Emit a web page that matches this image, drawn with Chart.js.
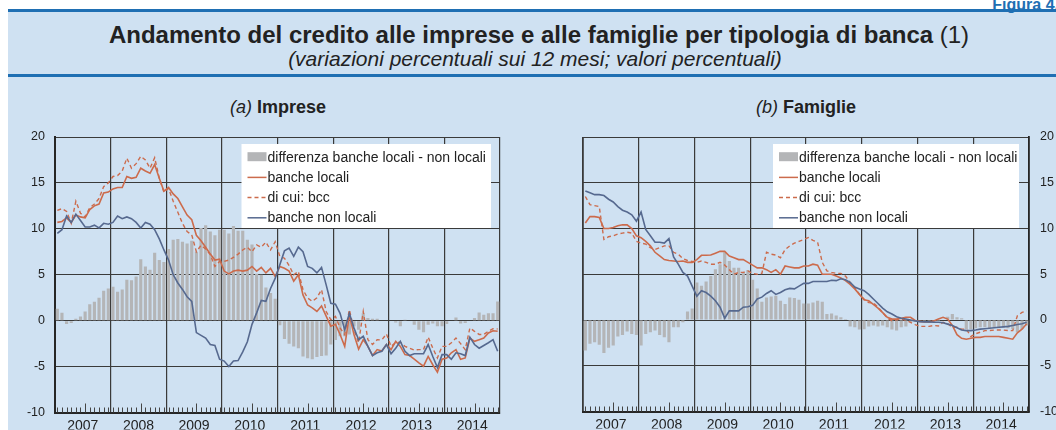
<!DOCTYPE html>
<html><head><meta charset="utf-8">
<script src="https://cdn.jsdelivr.net/npm/chart.js@4.4.1/dist/chart.umd.min.js"></script>
<style>
html,body{margin:0;padding:0;background:#fff;width:1056px;height:430px;overflow:hidden;font-family:"Liberation Sans",Arial,sans-serif;color:#222;}
#fig{position:absolute;left:8px;top:12px;width:1048px;height:418px;background:#cfe1f2;}
.rule{position:absolute;left:8px;width:1048px;height:3px;background:#1f6fb3;}
#figlabel{position:absolute;right:-3px;top:-3px;color:#1f6fb3;font-weight:bold;font-size:16px;line-height:16px;}
#title{position:absolute;left:11px;width:1056px;top:22px;text-align:center;font-size:24px;line-height:26px;white-space:nowrap;}
#title b{font-weight:bold;}
#subtitle{position:absolute;left:7px;width:1056px;top:47px;text-align:center;font-size:21px;line-height:23px;font-style:italic;white-space:nowrap;}
.ptitle{position:absolute;top:96px;font-size:18px;line-height:22px;text-align:center;white-space:nowrap;}
canvas{position:absolute;top:110px;}
</style>
</head><body>
<div id="fig"></div>
<div class="rule" style="top:9px"></div>
<div class="rule" style="top:74px"></div>
<div id="figlabel">Figura 4.</div>
<div id="title"><b>Andamento del credito alle imprese e alle famiglie per tipologia di banca</b> (1)</div>
<div id="subtitle">(variazioni percentuali sui 12 mesi; valori percentuali)</div>
<div class="ptitle" style="left:178px;width:200px;"><i>(a)</i> <b>Imprese</b></div>
<div class="ptitle" style="left:706px;width:200px;"><i>(b)</i> <b>Famiglie</b></div>
<canvas id="c1" width="528" height="320" style="left:0px"></canvas>
<canvas id="c2" width="528" height="320" style="left:528px"></canvas>
<script>
const years = ['2007','2008','2009','2010','2011','2012','2013','2014'];
const months = ['gen','feb','mar','apr','mag','giu','lug','ago','set','ott','nov','dic'];
const categories = years.flatMap(y => months.map(m => m + ' ' + y));
const seriesNames = ['differenza banche locali - non locali','banche locali','di cui: bcc','banche non locali'];

// (a) Imprese
const impreseDiff = [
  1.3, 0.85, -0.35, -0.25, 0.2, 0.45, 1.0, 1.8, 2.05, 2.5, 3.25, 3.5,
  3.7, 3.15, 3.4, 4.45, 4.4, 4.8, 6.7, 5.9, 5.55, 7.4, 6.6, 6.4,
  7.8, 8.8, 8.9, 8.6, 8.4, 8.7, 7.5, 10.1, 10.4, 9.7, 9.3, 9.9,
  9.9, 9.5, 10.3, 9.8, 9.8, 8.8, 8.3, 5.1, 5.0, 3.6, 3.0, 2.4,
  -0.5, -2.0, -2.5, -2.8, -3.0, -3.9, -4.1, -4.2, -3.95, -3.85, -3.8, -2.6,
  -2.1, -1.7, -1.7, -1.5, -0.6, -1.0, 0.8, 0.3, 0.2, 0.2, 0.0, 0.0,
  0.0, -0.2, -0.6, 0.1, 0.0, -0.45, -1.0, -1.25, -0.45, -0.3, -0.6, -0.6,
  -0.35, 0.0, 0.35, -0.3, -0.25, 0.0, 0.3, 0.9, 0.65, 0.8, 0.8, 2.1
];
const impreseLocali = [
  10.7, 10.8, 11.2, 10.7, 11.5, 11.3, 11.2, 12.1, 12.5, 12.7, 13.9, 14.0,
  14.35, 14.5, 14.5, 15.7, 15.5, 15.6, 16.6, 16.3, 16.05, 17.0, 15.5, 14.1,
  14.5, 13.8, 13.3, 12.4, 11.5, 11.0, 9.3, 8.7, 8.0, 7.25, 6.6, 6.7,
  5.4, 5.1, 5.4, 5.5, 5.4, 5.5, 5.9, 5.4, 5.8, 5.2, 5.7, 4.8,
  5.9, 5.7, 5.4, 4.3, 5.0, 2.8, 1.7, 1.4, 1.0, 1.6, 0.5, -0.6,
  -0.4, -1.5, -2.8, 0.6, -1.5, -3.1, -2.07, -2.8, -3.8, -3.15, -3.3, -2.6,
  -3.15, -2.25, -2.8, -3.7, -3.8, -4.2, -4.6, -4.96, -3.9, -4.8, -5.6, -4.2,
  -4.06, -3.5, -3.15, -4.2, -4.06, -1.9, -2.25, -2.07, -1.9, -1.34, -1.1, -1.16
];
const impreseBcc = [
  12.0, 12.2, 11.9, 10.6, 13.0, 11.7, 11.3, 12.3, 12.7, 13.3, 14.6, 15.0,
  15.7, 15.8, 16.3, 17.7, 16.6, 17.1, 17.9, 17.5, 16.6, 17.75, 15.5, 14.0,
  14.4, 13.0, 11.8, 10.6, 9.7, 9.35, 7.5, 8.2, 7.8, 7.2, 5.9, 6.45,
  6.45, 6.6, 6.9, 7.25, 7.7, 8.0, 7.5, 8.26, 8.0, 8.55, 7.7, 8.6,
  7.0, 6.8, 6.0, 5.0, 5.36, 3.37, 2.46, 2.1, 2.5, 3.37, 1.0, 0.1,
  0.47, -0.8, -1.5, 1.2, -1.0, -2.4, 1.0, -2.07, -2.6, -2.07, -2.1, -1.45,
  -2.8, -2.4, -2.35, -2.8, -3.0, -3.2, -3.15, -3.15, -1.78, -3.0, -4.06, -2.8,
  -2.8, -2.4, -1.9, -2.5, -3.15, -0.8, -1.16, -1.5, -1.5, -1.16, -0.87, -0.9
];
const impreseNonLocali = [
  9.5, 9.9, 11.4, 10.7, 11.6, 10.9, 10.2, 10.2, 10.4, 10.1, 10.6, 10.5,
  10.7, 11.4, 11.1, 11.3, 11.1, 10.7, 10.1, 10.7, 10.5, 9.9, 8.9, 7.7,
  6.6, 5.0, 4.1, 3.4, 2.6, 2.1, -1.3, -1.6, -1.9, -2.6, -2.7, -4.2,
  -4.4, -5.0, -4.4, -4.35, -3.4, -2.3, -0.4, 0.85, 2.2, 2.1, 3.5, 4.6,
  6.1, 7.6, 7.9, 7.0, 8.0, 7.5, 5.9, 5.7, 5.2, 5.8, 3.9, 1.9,
  1.8, 0.8, -1.0, 0.8, -0.8, -2.07, -1.7, -2.8, -3.8, -3.5, -3.33, -2.6,
  -3.6, -3.0, -2.25, -3.33, -3.8, -3.6, -3.6, -3.6, -2.6, -3.9, -5.1, -3.7,
  -3.7, -4.2, -3.5, -3.6, -3.8, -1.8, -2.6, -3.0, -2.7, -2.4, -2.07, -3.33
];

// (b) Famiglie
const famiglieDiff = [
  -3.33, -2.6, -2.43, -2.7, -3.6, -3.04, -2.8, -1.8, -1.63, -1.27, -1.52, -1.63,
  -2.8, -1.52, -1.34, -1.16, -1.63, -1.88, -2.43, -0.8, -0.8, -0.25, 0.94, 1.27,
  4.1, 3.73, 4.2, 4.8, 5.54, 6.1, 7.4, 6.45, 5.7, 5.7, 5.25, 5.47,
  4.4, 3.44, 2.0, 2.46, 2.57, 2.64, 2.1, 1.74, 2.46, 2.4, 2.2, 1.8,
  1.8, 1.9, 2.1, 2.0, 0.65, 0.7, 0.5, 0.3, 0.1, -0.7, -0.8, -1.05,
  -1.0, -0.7, -0.6, -0.7, -0.6, -0.8, -1.05, -1.16, -0.8, -0.7, -0.25, -0.2,
  -0.07, -0.2, -0.33, -0.2, -0.1, 0.05, 0.36, 0.65, 0.3, 0.2, -1.0, -1.0,
  -0.9, -0.8, -0.8, -0.9, -0.8, -0.9, -0.8, -0.9, -1.0, -1.34, -1.0, -0.6
];
const famiglieLocali = [
  10.6, 11.3, 11.3, 11.2, 10.0, 10.0, 10.1, 10.3, 10.4, 10.4, 10.0, 9.2,
  9.0, 8.6, 8.1, 7.4, 7.0, 6.6, 6.5, 6.45, 6.4, 6.45, 6.3, 6.3,
  6.6, 7.07, 7.07, 7.1, 7.3, 7.5, 7.5, 7.0, 6.8, 6.6, 6.6, 6.3,
  6.0, 5.7, 5.7, 5.5, 5.2, 5.5, 5.0, 5.9, 5.8, 5.7, 5.7, 5.9,
  5.9, 6.1, 6.0, 5.0, 5.0, 5.0, 4.8, 4.6, 4.3, 3.9, 3.4, 2.8,
  2.2, 2.1, 1.7, 1.3, 0.8, 0.3, 0.1, 0.1, 0.2, 0.3, 0.3, -0.05,
  -0.15, -0.2, -0.2, -0.1, 0.1, 0.3, 0.1, -0.6, -1.6, -2.0, -2.1, -2.0,
  -1.9, -1.9, -1.8, -1.8, -1.8, -1.8, -1.9, -2.0, -2.1, -1.4, -1.0, -0.4
];
const famiglieBcc = [
  13.5, 12.6, 12.5, 12.4, 8.8, 9.1, 9.2, 9.4, 9.5, 9.6, 9.5, 8.6,
  8.4, 8.3, 7.9, 7.7, 7.9, 8.1, 8.1, 7.4, 7.2, 6.7, 6.5, 6.4,
  6.3, 6.45, 6.3, 6.1, 6.1, 6.3, 6.0, 5.5, 5.0, 5.2, 5.2, 5.36,
  5.1, 5.0, 5.1, 7.4, 7.2, 7.1, 6.8, 7.7, 8.1, 8.4, 8.6, 8.8,
  9.0, 8.7, 8.5, 6.3, 5.36, 5.2, 5.1, 5.1, 4.8, 4.1, 3.55, 2.8,
  2.3, 1.9, 1.85, 1.4, 0.83, 0.2, -0.07, 0.03, 0.1, 0.0, -0.25, -0.5,
  -0.7, -0.7, -0.7, -0.6, -0.65, -0.25, -0.4, -0.8, -0.8, -1.0, -1.0, -1.8,
  -1.5, -1.34, -1.16, -1.15, -1.1, -1.1, -1.1, -1.15, -1.16, 0.47, 0.83, 1.0
];
const famiglieNonLocali = [
  14.1, 13.9, 13.7, 13.7, 13.6, 13.2, 12.9, 12.4, 12.0, 11.8, 11.5, 10.8,
  11.8, 9.9, 9.2, 8.5, 8.5, 8.4, 8.9, 6.9, 6.1, 5.2, 4.8, 3.7,
  2.6, 3.2, 3.0, 2.6, 2.1, 1.4, 0.2, 1.0, 1.0, 1.0, 1.4, 1.45,
  1.6, 2.3, 2.5, 2.9, 3.2, 2.8, 3.0, 3.3, 3.45, 3.4, 3.7, 4.0,
  4.0, 4.2, 4.2, 4.2, 4.2, 4.35, 4.3, 4.5, 4.4, 4.1, 3.6, 3.4,
  3.2, 2.8, 2.3, 1.8, 1.3, 0.9, 0.65, 0.35, 0.2, 0.1, 0.0, -0.1,
  -0.18, -0.2, -0.2, -0.25, -0.25, -0.3, -0.45, -0.6, -0.85, -1.1, -1.16, -1.16,
  -1.1, -1.0, -0.95, -0.9, -0.85, -0.8, -0.75, -0.7, -0.6, -0.5, -0.4, -0.25
];

const yMin = -10, yMax = 20, yStep = 5;

const GREY = '#b4b5b7';
const ORANGE = '#cc6b4c';
const BLUE = '#56698f';
const GRID = '#3a3a3a';
const AXIS = '#262626';
const FONT = '"Liberation Sans", Arial, sans-serif';

const boxLegend = {
  id: 'boxLegend',
  beforeDatasetsDraw(chart, args, opts) {
    const ctx = chart.ctx, a = chart.chartArea;
    ctx.save();
    const bx = a.right - opts.rightInset - opts.width;
    const by = a.top + 7;
    ctx.fillStyle = '#ffffff';
    ctx.fillRect(bx, by, opts.width, 84);
    const xs = chart.scales.x;
    ctx.strokeStyle = '#444';
    ctx.lineWidth = 1;
    for (let i = 0; i < chart.data.labels.length; i++) {
      const px = Math.round(xs.getPixelForValue(i)) + 0.5;
      const len = (i % 12 === 6) ? 9 : 5;
      ctx.beginPath();
      ctx.moveTo(px, a.bottom);
      ctx.lineTo(px, a.bottom - len);
      ctx.stroke();
    }
    ctx.font = '14px ' + FONT;
    ctx.textBaseline = 'middle';
    ctx.textAlign = 'left';
    const sx = bx + 6, sw = 19;
    seriesNames.forEach((name, k) => {
      const ds = chart.data.datasets.find(d => d.label === name);
      const ry = a.top + 19.7 + k * 20.2;
      if (ds.type === 'bar') {
        ctx.fillStyle = ds.backgroundColor;
        ctx.fillRect(sx, ry - 4.5, sw, 9);
      } else {
        ctx.strokeStyle = ds.borderColor;
        ctx.lineWidth = 1.5;
        ctx.setLineDash(ds.borderDash || []);
        ctx.beginPath();
        ctx.moveTo(sx, ry + 0.5);
        ctx.lineTo(sx + sw, ry + 0.5);
        ctx.stroke();
        ctx.setLineDash([]);
      }
      ctx.fillStyle = '#222';
      ctx.fillText(name, sx + sw + 1, ry + 1);
    });
    ctx.restore();
  }
};

function makeChart(id, diff, loc, bcc, nonloc, isLeft) {
  return new Chart(document.getElementById(id), {
    type: 'bar',
    data: {
      labels: categories,
      datasets: [
        { type: 'line', label: seriesNames[3], data: nonloc, borderColor: BLUE, borderWidth: 1.6, pointRadius: 0, tension: 0, order: 1 },
        { type: 'line', label: seriesNames[1], data: loc, borderColor: ORANGE, borderWidth: 1.6, pointRadius: 0, tension: 0, order: 2 },
        { type: 'line', label: seriesNames[2], data: bcc, borderColor: ORANGE, borderWidth: 1.4, borderDash: [4, 3], pointRadius: 0, tension: 0, order: 3 },
        { type: 'bar', label: seriesNames[0], data: diff, backgroundColor: GREY, borderWidth: 0, barPercentage: 0.68, categoryPercentage: 1, order: 10 }
      ]
    },
    options: {
      responsive: false,
      animation: false,
      devicePixelRatio: 1,
      layout: { padding: isLeft ? { top: 27, right: 28, left: 0, bottom: 0 } : { top: 27, right: 0, left: 55, bottom: 0 } },
      plugins: {
        legend: { display: false },
        tooltip: { enabled: false },
        boxLegend: isLeft ? { width: 249.5, rightInset: 9 } : { width: 246, rightInset: 10 }
      },
      scales: {
        x: {
          offset: true,
          grid: {
            offset: true,
            drawTicks: false,
            color: c => (c.index === undefined || c.index % 12 === 0) ? GRID : 'rgba(0,0,0,0)',
            lineWidth: c => (c.index === 0 && !isLeft) ? 1.8 : 1.2
          },
          border: { display: true, color: AXIS, width: 2 },
          ticks: {
            autoSkip: false, maxRotation: 0, minRotation: 0,
            padding: 5, labelOffset: -2.3,
            color: '#222', font: { size: 14, family: FONT },
            callback: (v, i) => (i % 12 === 6) ? years[Math.floor(i / 12)] : ''
          },
          afterFit: s => { s.height = 17; }
        },
        y: {
          position: isLeft ? 'left' : 'right',
          min: yMin, max: yMax,
          grid: { color: GRID, lineWidth: 1, drawTicks: false },
          border: { display: true, color: AXIS, width: isLeft ? 2 : 1.8 },
          ticks: { stepSize: yStep, padding: isLeft ? 10 : 11, color: '#222', font: { size: 12.5, family: FONT } },
          afterFit: s => { s.width = isLeft ? 55 : 27; }
        }
      }
    },
    plugins: [boxLegend]
  });
}

makeChart('c1', impreseDiff, impreseLocali, impreseBcc, impreseNonLocali, true);
makeChart('c2', famiglieDiff, famiglieLocali, famiglieBcc, famiglieNonLocali, false);
</script>
</body></html>
